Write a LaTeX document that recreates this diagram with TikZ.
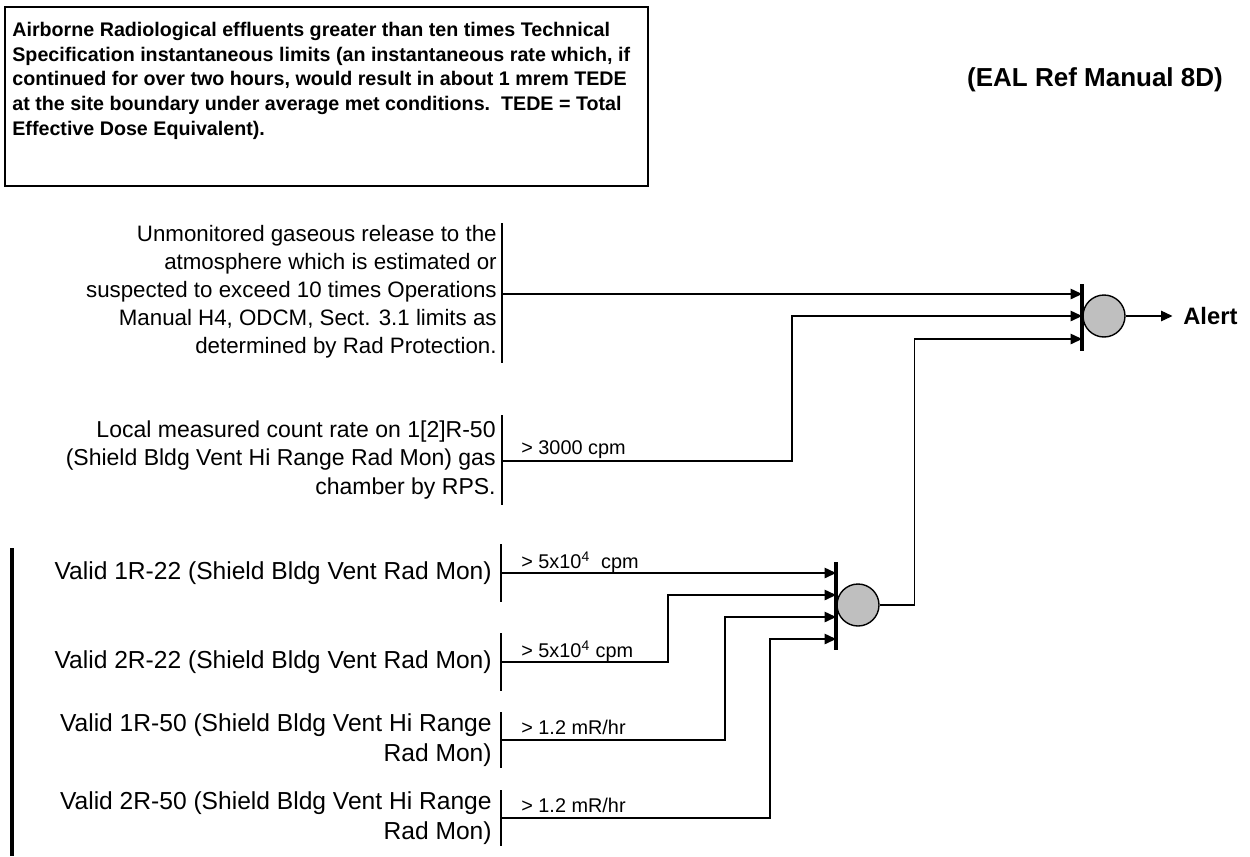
\documentclass[tikz,border=0pt]{standalone}
\usepackage{fontspec}
\setmainfont{Liberation Sans}
\usetikzlibrary{arrows.meta, positioning}

\tikzset{
  cond/.style={font=\fontsize{14}{17}\selectfont, align=right, anchor=east, inner sep=0pt},
  limit/.style={font=\fontsize{11.3}{13}\selectfont, anchor=base west, inner sep=0pt},
  inbar/.style={line width=0.8pt},
  gatebar/.style={line width=1.8pt},
  gate/.style={circle, draw, line width=0.8pt, fill=black!25, minimum size=0.84cm, inner sep=0pt},
  feed/.style={-{Triangle[length=6.5pt,width=6pt]}, line width=0.6pt},
}

\begin{document}
\begin{tikzpicture}[x=0.02cm, y=-0.02cm]
\useasboundingbox (0,0) rectangle (1250,856);

% event description
\draw [line width=0.7pt] (5,7) rectangle (648,186);
\node [font=\fontsize{11.2}{14}\selectfont\bfseries, align=left, anchor=north west, inner sep=0pt] (event) at (12,22)
  {Airborne Radiological effluents greater than ten times Technical\\
   Specification instantaneous limits (an instantaneous rate which, if\\
   continued for over two hours, would result in about 1 mrem TEDE\\
   at the site boundary under average met conditions.\ \ TEDE = Total\\
   Effective Dose Equivalent).};
\node [font=\fontsize{14.8}{16}\selectfont\bfseries, anchor=base, inner sep=0pt] (eal) at (1095,86) {(EAL Ref Manual 8D)};

% gates
\node [gate] (alertGate) at (1104,316) {};
\draw [gatebar] (1082,284) -- (1082,351);
\foreach \i/\y in {1/294,2/316,3/339}
  \coordinate (inA\i) at (1082,\y);
\node [gate] (voteGate) at (858,605) {};
\draw [gatebar] (836,562) -- (836,650);
\foreach \i/\y in {1/573,2/595,3/617,4/639}
  \coordinate (inB\i) at (836,\y);
\node [font=\fontsize{13.5}{16}\selectfont\bfseries, anchor=west, inner sep=0pt] (alert) at (1183,316) {Alert};
\draw [feed, shorten >=6pt] (alertGate) -- (alert);

% conditions
\node [cond, font=\fontsize{12.7}{16}\selectfont] (unmon) at (497,292)
  {Unmonitored gaseous release to the\\
   atmosphere which is estimated or\\
   suspected to exceed 10 times Operations\\
   Manual H4, ODCM, Sect. 3.1 limits as\\
   determined by Rad Protection.};
\node [cond, font=\fontsize{13.1}{16}\selectfont] (local) at (496,460)
  {Local measured count rate on 1[2]R-50\\
   (Shield Bldg Vent Hi Range Rad Mon) gas\\
   chamber by RPS.};
\node [cond] (r22a) at (492,573) {Valid 1R-22 (Shield Bldg Vent Rad Mon)};
\node [cond] (r22b) at (492,662) {Valid 2R-22 (Shield Bldg Vent Rad Mon)};
\node [cond] (r50a) at (492,740) {Valid 1R-50 (Shield Bldg Vent Hi Range\\Rad Mon)};
\node [cond] (r50b) at (492,818) {Valid 2R-50 (Shield Bldg Vent Hi Range\\Rad Mon)};

\draw [inbar] (502,223) -- (502,363);
\draw [inbar] (502,415) -- (502,505);
\foreach \y in {573,662} {
  \draw [inbar] (501,\y-29) -- (501,\y+29);
}
\foreach \y in {740,818} {
  \draw [inbar] (501,\y-28) -- (501,\y+28);
}
\draw [line width=1.8pt] (12,548) -- (12,856);

\coordinate (unmonOut) at (502,294);
\coordinate (localOut) at (502,461);
\coordinate (r22aOut) at (501,573);
\coordinate (r22bOut) at (501,662);
\coordinate (r50aOut) at (501,740);
\coordinate (r50bOut) at (501,818);

% setpoints
\node [limit] (lim1) at (521,454) {> 3000 cpm};
\node [limit] (lim2) at (521,568) {> 5x10\textsuperscript{4}\ \ cpm};
\node [limit] (lim3) at (521,657) {> 5x10\textsuperscript{4} cpm};
\node [limit] (lim4) at (521,734) {> 1.2 mR/hr};
\node [limit] (lim5) at (521,812) {> 1.2 mR/hr};

% connections
\draw [feed] (unmonOut) -- (inA1);
\draw [feed] (localOut) -- ++(290,0) |- (inA2);
\draw [feed] (voteGate.east) -- ++(35,0) |- (inA3);
\draw [feed] (r22aOut) -- (inB1);
\draw [feed] (r22bOut) -- ++(167,0) |- (inB2);
\draw [feed] (r50aOut) -- ++(224,0) |- (inB3);
\draw [feed] (r50bOut) -- ++(269,0) |- (inB4);
\end{tikzpicture}
\end{document}
